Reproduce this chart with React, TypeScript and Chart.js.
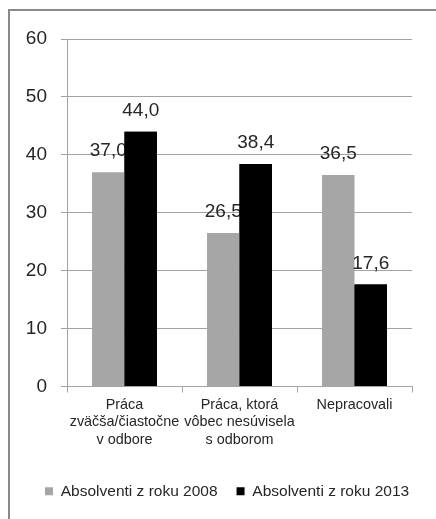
import React, { useEffect, useRef } from "react";
import { Chart, registerables } from "chart.js";

Chart.register(...registerables);

// Categories (multi-line axis labels)
const categories: string[][] = [
  ["Práca", "zväčša/čiastočne", "v odbore"],
  ["Práca, ktorá", "vôbec nesúvisela", "s odborom"],
  ["Nepracovali"],
];

const seriesNames = ["Absolventi z roku 2008", "Absolventi z roku 2013"];
const values2008 = [37.0, 26.5, 36.5];
const values2013 = [44.0, 38.4, 17.6];
const yTicks = [0, 10, 20, 30, 40, 50, 60];

const FONT = "'Liberation Sans', Arial, sans-serif";
const TEXT = "#262626";
const GRID = "#a3a3a3";

const fmt = (v: number) => v.toFixed(1).replace(".", ",");

// Value labels above bars; the second series' bars are repainted after the
// first series' labels so they sit on top, then its own labels follow.
const valueLabels = {
  id: "valueLabels",
  afterDatasetsDraw(chart: any) {
    const ctx = chart.ctx;
    const drawLabels = (di: number) => {
      const meta = chart.getDatasetMeta(di);
      const data = chart.data.datasets[di].data as number[];
      ctx.save();
      ctx.font = `19px ${FONT}`;
      ctx.fillStyle = TEXT;
      ctx.textAlign = "center";
      ctx.textBaseline = "alphabetic";
      meta.data.forEach((bar: any, i: number) => {
        ctx.fillText(fmt(data[i]), bar.x, bar.y - 16);
      });
      ctx.restore();
    };
    drawLabels(0);
    chart.getDatasetMeta(1).controller.draw();
    drawLabels(1);
  },
};

export default function App() {
  const ref = useRef<HTMLCanvasElement>(null);

  useEffect(() => {
    const canvas = ref.current;
    if (!canvas) return;
    const chart = new Chart(canvas, {
      type: "bar",
      data: {
        labels: categories,
        datasets: [
          {
            label: seriesNames[0],
            data: values2008,
            backgroundColor: "#a6a6a6",
            borderWidth: 0,
            categoryPercentage: 0.565,
            barPercentage: 1,
          },
          {
            label: seriesNames[1],
            data: values2013,
            backgroundColor: "#000000",
            borderWidth: 0,
            categoryPercentage: 0.565,
            barPercentage: 1,
          },
        ],
      },
      options: {
        animation: false,
        responsive: false,
        devicePixelRatio: 1,
        layout: { padding: { left: 26, right: 0, top: 39, bottom: 10 } },
        plugins: {
          legend: {
            position: "bottom",
            align: "start",
            labels: {
              boxWidth: 8,
              boxHeight: 8,
              padding: 19,
              color: TEXT,
              font: { family: FONT, size: 15.5 },
            },
          },
          tooltip: { enabled: false },
        },
        scales: {
          x: {
            grid: {
              offset: true,
              drawOnChartArea: false,
              tickLength: 6,
              color: GRID,
            },
            border: { display: true, color: GRID },
            ticks: {
              color: TEXT,
              font: { family: FONT, size: 14.4, lineHeight: 1.2 },
              maxRotation: 0,
              autoSkip: false,
              padding: 4,
            },
            afterFit: (scale: any) => {
              scale.height = 78;
            },
          },
          y: {
            min: 0,
            max: 60,
            afterBuildTicks: (scale: any) => {
              scale.ticks = yTicks.map((v) => ({ value: v }));
            },
            grid: { color: GRID, tickLength: 6 },
            border: { display: true, color: GRID },
            ticks: {
              color: TEXT,
              font: { family: FONT, size: 19 },
              padding: 14,
            },
            afterFit: (scale: any) => {
              scale.width = 41;
            },
          },
          // empty right-hand margin axis
          yRight: {
            position: "right",
            display: true,
            grid: { display: false },
            border: { display: false },
            ticks: { display: false },
            afterFit: (scale: any) => {
              scale.width = 24;
            },
          },
        },
      },
      plugins: [valueLabels],
    });
    return () => chart.destroy();
  }, []);

  return (
    <div style={{ position: "fixed", inset: 0, overflow: "hidden", background: "#fff" }}>
      <div
        style={{
          position: "absolute",
          left: 8,
          top: 9,
          width: 500,
          height: 600,
          borderTop: "2px solid #8a8a8a",
          borderLeft: "2px solid #8a8a8a",
        }}
      />
      <canvas
        ref={ref}
        width={436}
        height={519}
        style={{ position: "absolute", left: 0, top: 0, width: 436, height: 519 }}
      />
    </div>
  );
}
